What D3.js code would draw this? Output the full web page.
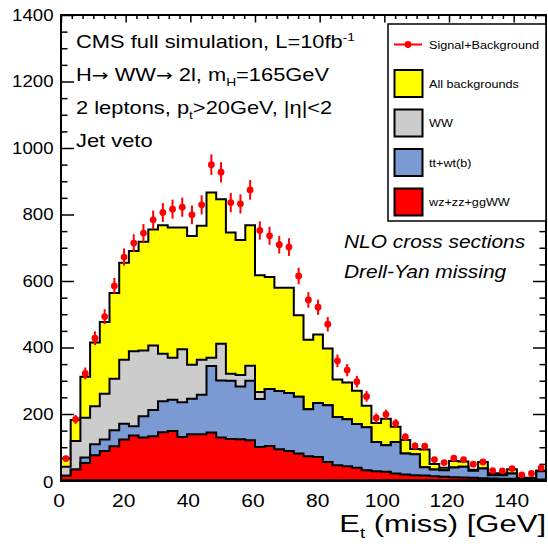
<!DOCTYPE html>
<html>
<head>
<meta charset="utf-8">
<script src="https://cdn.jsdelivr.net/npm/d3@7"></script>
<style>
  body { margin: 0; background: #fff; }
  svg { display: block; }
</style>
</head>
<body>
<div id="chart"></div>
<script>
const binLow = d3.range(0, 150, 3);

// suma de todos los fondos (amarillo)
const allBkg = [66, 182, 312, 415, 477, 564, 655, 690, 718, 755,
                768, 761, 761, 735, 766, 866, 846, 746, 723, 768,
                617, 612, 580, 580, 497, 423, 439, 397, 304, 295,
                270, 225, 173, 186, 162, 122, 95, 93, 50, 38,
                59, 57, 32, 56, 22, 22, 34, 8, 8, 30];

// WW (gris)
const ww = [27, 86, 120, 114, 138, 155, 192, 226, 198, 194,
            143, 126, 160, 102, 105, 25, 110, 21, 34, 45,
            21, 0, 0, 0, 0, 0, 0, 0, 0, 0,
            0, 0, 0, 0, 0, 0, 0, 0, 0, 0,
            0, 0, 0, 0, 0, 0, 0, 0, 0, 0];

// tt + wt(b) (azul)
const ttwt = [0, 0, 16, 33, 34, 48, 48, 28, 64, 79,
              93, 94, 104, 107, 119, 200, 172, 175, 159, 179,
              144, 171, 175, 174, 171, 141, 162, 170, 145, 141,
              132, 129, 88, 80, 95, 63, 63, 25, 20, 20,
              29, 32, 21, 29, 10, 11, 16, 2, 3, 25];

// wz + zz + ggWW (rojo)
const wzzz = [14, 33, 53, 76, 89, 103, 123, 135, 129, 133,
              145, 149, 131, 139, 139, 144, 129, 125, 124, 121,
              101, 104, 94, 89, 81, 73, 71, 56, 46, 43,
              38, 31, 28, 26, 21, 18, 16, 15, 13, 11,
              10, 9, 8, 7, 6, 5, 5, 4, 3, 3];

// senal + fondo (puntos)
const sigBkg = [66, 184, 322, 428, 493, 585, 672, 714, 744, 784,
                806, 816, 822, 799, 829, 950, 927, 836, 832, 874,
                752, 736, 709, 702, 615, 543, 521, 470, 360, 332,
                297, 253, 188, 199, 172, 131, 104, 103, 63, 54,
                67, 63, 49, 56, 30, 29, 36, 17, 21, 38];

const xMajor = [0, 20, 40, 60, 80, 100, 120, 140];
const yMajor = [0, 200, 400, 600, 800, 1000, 1200, 1400];

const legendItems = [
  { label: "All backgrounds", color: "#ffff00" },
  { label: "WW", color: "#cccccc" },
  { label: "tt+wt(b)", color: "#7b99d2" },
  { label: "wz+zz+ggWW", color: "#ff0000" }
];

// --- dibujo ---
const W = 548, H = 544;
const FONT = "'Liberation Sans', Arial, Helvetica, sans-serif";

const svg = d3.select('#chart').append('svg')
  .attr('width', W)
  .attr('height', H)
  .style('background', '#fff');

const x = d3.scaleLinear().domain([0, 150]).range([61, 546]);
const y = d3.scaleLinear().domain([0, 1400]).range([480.5, 15]);

// texto estirado en horizontal, como en la figura original
function stretchText(parent, px, py, size, sx, anchor) {
  return parent.append('text')
    .attr('transform', `translate(${px},${py}) scale(${sx},1)`)
    .attr('font-family', FONT)
    .attr('font-size', size)
    .attr('text-anchor', anchor || 'start')
    .attr('fill', '#000');
}

// ticks (debajo de los histogramas)
const axes = svg.append('g');
const xMinor = d3.range(0, 150, 20 / 6).filter(v => !xMajor.some(m => Math.abs(m - v) < 1e-6));
const yMinor = d3.range(0, 1400, 50).filter(v => v % 200 !== 0);

function tickGroup(axis, transform) {
  const g = axes.append('g').attr('transform', transform).call(axis);
  g.select('.domain').remove();
  g.selectAll('line').attr('stroke', '#000').attr('stroke-width', 1.5);
  g.selectAll('text').remove();
}
tickGroup(d3.axisLeft(y).tickValues(yMajor).tickSize(-13), `translate(${x(0)},0)`);
tickGroup(d3.axisLeft(y).tickValues(yMinor).tickSize(-6.5), `translate(${x(0)},0)`);
tickGroup(d3.axisRight(y).tickValues(yMajor).tickSize(-13), `translate(${x(150)},0)`);
tickGroup(d3.axisRight(y).tickValues(yMinor).tickSize(-6.5), `translate(${x(150)},0)`);
tickGroup(d3.axisTop(x).tickValues(xMajor).tickSize(-7.5), `translate(0,${y(1400)})`);
tickGroup(d3.axisTop(x).tickValues(xMinor).tickSize(-4), `translate(0,${y(1400)})`);
tickGroup(d3.axisBottom(x).tickValues(xMajor).tickSize(-7.5), `translate(0,${y(0)})`);
tickGroup(d3.axisBottom(x).tickValues(xMinor).tickSize(-4), `translate(0,${y(0)})`);

// histogramas apilados
const comps = binLow.map((b, i) => ({ wzzz: wzzz[i], ttwt: ttwt[i], ww: ww[i] }));
const stack = d3.stack().keys(['wzzz', 'ttwt', 'ww'])(comps);

const layers = [
  { values: allBkg, color: legendItems[0].color },
  { values: stack[2].map(d => d[1]), color: legendItems[1].color },
  { values: stack[1].map(d => d[1]), color: legendItems[2].color },
  { values: stack[0].map(d => d[1]), color: legendItems[3].color }
];

const area = d3.area()
  .curve(d3.curveStepAfter)
  .x(d => x(d.x))
  .y0(y(0))
  .y1(d => y(d.v));

const histG = svg.append('g');
layers.forEach(layer => {
  const pts = binLow.map((b, i) => ({ x: b, v: layer.values[i] }));
  pts.push({ x: 150, v: layer.values[layer.values.length - 1] });
  histG.append('path')
    .datum(pts)
    .attr('d', area)
    .attr('fill', layer.color)
    .attr('stroke', '#000')
    .attr('stroke-width', 2)
    .attr('stroke-linejoin', 'miter');
});

// puntos senal + fondo con error de Poisson
const ptsG = svg.append('g');
sigBkg.forEach((v, i) => {
  const cx = x(binLow[i] + 1.5);
  const err = Math.sqrt(v);
  ptsG.append('line')
    .attr('x1', cx).attr('x2', cx)
    .attr('y1', y(v - err)).attr('y2', y(v + err))
    .attr('stroke', '#ff0000')
    .attr('stroke-width', 2);
  ptsG.append('circle')
    .attr('cx', cx)
    .attr('cy', y(v))
    .attr('r', 3.4)
    .attr('fill', '#ff0000');
});

// marco
svg.append('rect')
  .attr('x', x(0)).attr('y', y(1400))
  .attr('width', x(150) - x(0)).attr('height', y(0) - y(1400))
  .attr('fill', 'none')
  .attr('stroke', '#000')
  .attr('stroke-width', 2);

// etiquetas de los ejes
yMajor.forEach(v => {
  const py = v === 0 ? 488 : y(v) + 5.8;
  stretchText(svg, 53.5, py, 16.5, 1.13, 'end').text(v);
});
xMajor.forEach(v => {
  stretchText(svg, x(v) - 2, 507, 17.5, 1.2, 'middle').text(v);
});

const xt = stretchText(svg, 546, 532, 23.5, 1.32, 'end');
xt.append('tspan').text('E');
xt.append('tspan').attr('font-size', 14).attr('dy', 6).text('t');
xt.append('tspan').attr('dy', -6).text(' (miss) [GeV]');

// textos
const ARROW_FONT = "'DejaVu Sans', sans-serif";

const t1 = stretchText(svg, 76, 48, 17.5, 1.25);
t1.append('tspan').text('CMS full simulation, L=10fb');
t1.append('tspan').attr('font-size', 11).attr('dy', -7).text('-1');

const t2 = stretchText(svg, 76, 81, 17.5, 1.25);
t2.append('tspan').text('H');
t2.append('tspan').attr('font-family', ARROW_FONT).attr('font-size', 16).text('\u2192');
t2.append('tspan').text(' WW');
t2.append('tspan').attr('font-family', ARROW_FONT).attr('font-size', 16).text('\u2192');
t2.append('tspan').text(' 2l, m');
t2.append('tspan').attr('font-size', 11).attr('dy', 5).text('H');
t2.append('tspan').attr('dy', -5).text('=165GeV');

const t3 = stretchText(svg, 76, 114, 17.5, 1.25);
t3.append('tspan').text('2 leptons, p');
t3.append('tspan').attr('font-size', 11).attr('dy', 5).text('t');
t3.append('tspan').attr('dy', -5).text('>20GeV, |\u03b7|<2');

stretchText(svg, 76, 147, 17.5, 1.25).text('Jet veto');

stretchText(svg, 344, 248, 19, 1.1).attr('font-style', 'italic').text('NLO cross sections');
stretchText(svg, 344, 278, 19, 1.1).attr('font-style', 'italic').text('Drell-Yan missing');

// leyenda
const leg = svg.append('g');
leg.append('rect')
  .attr('x', 388).attr('y', 24)
  .attr('width', 158).attr('height', 197)
  .attr('fill', '#fff')
  .attr('stroke', '#000')
  .attr('stroke-width', 1.5);

leg.append('line')
  .attr('x1', 394).attr('x2', 422)
  .attr('y1', 44.5).attr('y2', 44.5)
  .attr('stroke', '#ff0000')
  .attr('stroke-width', 2);
leg.append('circle')
  .attr('cx', 408).attr('cy', 44.5).attr('r', 3.4)
  .attr('fill', '#ff0000');
stretchText(leg, 429, 48.5, 11.5, 1.1).text('Signal+Background');

legendItems.forEach((item, i) => {
  const top = 70 + i * 39.5;
  leg.append('rect')
    .attr('x', 394.5).attr('y', top)
    .attr('width', 28).attr('height', 27)
    .attr('fill', item.color)
    .attr('stroke', '#000')
    .attr('stroke-width', 2);
  stretchText(leg, 429, top + 17.5, 11.5, 1.1).text(item.label);
});
</script>
</body>
</html>
